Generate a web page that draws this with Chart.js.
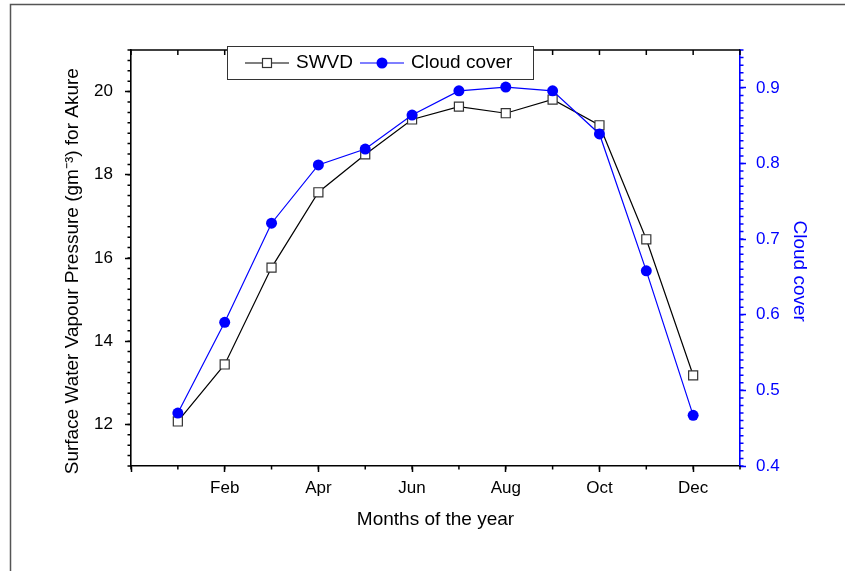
<!DOCTYPE html>
<html>
<head>
<meta charset="utf-8">
<script src="https://cdn.jsdelivr.net/npm/chart.js@4/dist/chart.umd.min.js"></script>
<style>
  html, body { margin: 0; padding: 0; background: #fff; }
  #wrap { width: 845px; height: 571px; }
</style>
</head>
<body>
<div id="wrap"><canvas id="chart" width="845" height="571"></canvas></div>
<script>
// Data
const months = [1, 2, 3, 4, 5, 6, 7, 8, 9, 10, 11, 12];
const swvd = [12.07, 13.44, 15.77, 17.58, 18.49, 19.33, 19.64, 19.48, 19.81, 19.19, 16.45, 13.18];
const cloudCover = [0.470, 0.590, 0.721, 0.798, 0.819, 0.864, 0.896, 0.901, 0.896, 0.839, 0.658, 0.467];

// Tick values / labels
const xTickValues = [0, 2, 4, 6, 8, 10, 12];
const xTickLabels = ["", "Feb", "Apr", "Jun", "Aug", "Oct", "Dec"];
const yTickValues = [12, 14, 16, 18, 20];
const y2TickValues = [0.4, 0.5, 0.6, 0.7, 0.8, 0.9];

const BLUE = "#0000ff";
const FONT = "'Liberation Sans', Arial, sans-serif";

// minor tick steps
const minorSteps = { x: 1, y: 0.25, y2: 0.01 };

const toPoints = (xs, ys) => xs.map((x, i) => ({ x, y: ys[i] }));

// Draw minor ticks, top ticks, outer frame and the boxed legend
const decorPlugin = {
  id: "decor",
  beforeDraw(chart) {
    const { ctx } = chart;
    ctx.save();
    ctx.strokeStyle = "#555";
    ctx.lineWidth = 1.5;
    ctx.beginPath();
    ctx.moveTo(10.5, 571);
    ctx.lineTo(10.5, 4.5);
    ctx.lineTo(845, 4.5);
    ctx.stroke();
    ctx.restore();
  },
  afterDraw(chart) {
    const { ctx, chartArea: area, scales } = chart;
    ctx.save();
    ctx.lineWidth = 1.5;

    const minor = (scale, step, color, dir) => {
      ctx.strokeStyle = color;
      ctx.beginPath();
      const n = Math.round((scale.max - scale.min) / step);
      for (let i = 0; i <= n; i++) {
        const v = +(scale.min + i * step).toFixed(4);
        const p = scale.getPixelForValue(v);
        if (dir === "left") { ctx.moveTo(area.left, p); ctx.lineTo(area.left - 3.5, p); }
        if (dir === "right") { ctx.moveTo(area.right, p); ctx.lineTo(area.right + 3.5, p); }
        if (dir === "bottom") { ctx.moveTo(p, area.bottom); ctx.lineTo(p, area.bottom + 3.5); }
        if (dir === "top") { ctx.moveTo(p, area.top); ctx.lineTo(p, area.top + 5); }
      }
      ctx.stroke();
    };
    minor(scales.y, minorSteps.y, "#000", "left");
    minor(scales.y2, minorSteps.y2, BLUE, "right");
    minor(scales.x, minorSteps.x, "#000", "bottom");
    minor(scales.x, minorSteps.x, "#000", "top");

    // top frame line
    ctx.strokeStyle = "#000";
    ctx.lineWidth = 1.6;
    ctx.beginPath();
    ctx.moveTo(area.left, area.top);
    ctx.lineTo(area.right, area.top);
    ctx.stroke();

    // legend box
    const bx = 227, by = 46, bw = 306, bh = 33, cy = by + bh / 2 + 0.5;
    ctx.fillStyle = "#fff";
    ctx.fillRect(bx, by, bw, bh);
    ctx.strokeStyle = "#333";
    ctx.lineWidth = 1;
    ctx.strokeRect(bx + 0.5, by + 0.5, bw, bh);

    ctx.font = "19px " + FONT;
    ctx.textBaseline = "middle";
    let x = bx + 18;
    chart.data.datasets.forEach((ds) => {
      ctx.strokeStyle = ds.borderColor;
      ctx.lineWidth = 1.2;
      ctx.beginPath();
      ctx.moveTo(x, cy);
      ctx.lineTo(x + 44, cy);
      ctx.stroke();
      const mx = x + 22;
      if (ds.pointStyle === "rect") {
        ctx.fillStyle = "#fff";
        ctx.fillRect(mx - 4.5, cy - 4.5, 9, 9);
        ctx.strokeStyle = "#333";
        ctx.strokeRect(mx - 4.5, cy - 4.5, 9, 9);
      } else {
        ctx.fillStyle = BLUE;
        ctx.beginPath();
        ctx.arc(mx, cy, 5.5, 0, Math.PI * 2);
        ctx.fill();
      }
      ctx.fillStyle = "#000";
      ctx.fillText(ds.label, x + 51, cy);
      x += 51 + ctx.measureText(ds.label).width + 7;
    });
    ctx.restore();
  },
};

const setTicks = (values) => (scale) => {
  scale.ticks = values.map((v) => ({ value: v }));
};

new Chart(document.getElementById("chart"), {
  type: "line",
  data: {
    datasets: [
      {
        label: "SWVD",
        data: toPoints(months, swvd),
        yAxisID: "y",
        borderColor: "#000",
        borderWidth: 1.2,
        pointStyle: "rect",
        pointRadius: 6.4,
        pointBackgroundColor: "#fff",
        pointBorderColor: "#333",
        pointBorderWidth: 1.2,
        tension: 0,
        order: 1,
      },
      {
        label: "Cloud cover",
        data: toPoints(months, cloudCover),
        yAxisID: "y2",
        borderColor: BLUE,
        borderWidth: 1.2,
        pointStyle: "circle",
        pointRadius: 5.5,
        pointBackgroundColor: BLUE,
        pointBorderColor: BLUE,
        pointBorderWidth: 0,
        tension: 0,
        order: 0,
      },
    ],
  },
  options: {
    responsive: false,
    animation: false,
    layout: { padding: { top: 50, left: 0, right: 0, bottom: 0 } },
    plugins: { legend: { display: false }, tooltip: { enabled: false } },
    scales: {
      x: {
        type: "linear",
        position: "bottom",
        min: 0,
        max: 13,
        afterBuildTicks: setTicks(xTickValues),
        afterFit: (s) => { s.height = 105; },
        grid: { drawOnChartArea: false, tickLength: 6, tickWidth: 1.5, tickColor: "#000" },
        border: { color: "#000", width: 1.6 },
        ticks: {
          color: "#000",
          font: { family: FONT, size: 17 },
          padding: 6,
          maxRotation: 0,
          autoSkip: false,
          callback: (v) => xTickLabels[xTickValues.indexOf(v)] ?? "",
        },
        title: {
          display: true,
          text: "Months of the year",
          color: "#000",
          font: { family: FONT, size: 19 },
          padding: { top: 0, bottom: 40 },
        },
      },
      y: {
        type: "linear",
        position: "left",
        min: 11,
        max: 21,
        afterBuildTicks: setTicks(yTickValues),
        afterFit: (s) => { s.width = 131; },
        grid: { drawOnChartArea: false, tickLength: 6, tickWidth: 1.5, tickColor: "#000" },
        border: { color: "#000", width: 1.6 },
        ticks: {
          color: "#000",
          font: { family: FONT, size: 17 },
          padding: 12,
          autoSkip: false,
        },
        title: {
          display: true,
          text: "Surface Water Vapour Pressure (gm\u207B\u00B3) for Akure     ",
          color: "#000",
          font: { family: FONT, size: 19 },
          padding: { top: 61, bottom: 0 },
        },
      },
      y2: {
        type: "linear",
        position: "right",
        min: 0.4,
        max: 0.95,
        afterBuildTicks: setTicks(y2TickValues),
        afterFit: (s) => { s.width = 105; },
        grid: { drawOnChartArea: false, tickLength: 6, tickWidth: 1.5, tickColor: BLUE },
        border: { color: BLUE, width: 1.6 },
        ticks: {
          color: BLUE,
          font: { family: FONT, size: 17 },
          padding: 10,
          autoSkip: false,
          callback: (v) => v.toFixed(1),
        },
        title: {
          display: true,
          text: "     Cloud cover",
          color: BLUE,
          font: { family: FONT, size: 19 },
          padding: { top: 34, bottom: 0 },
        },
      },
    },
  },
  plugins: [decorPlugin],
});
</script>
</body>
</html>
